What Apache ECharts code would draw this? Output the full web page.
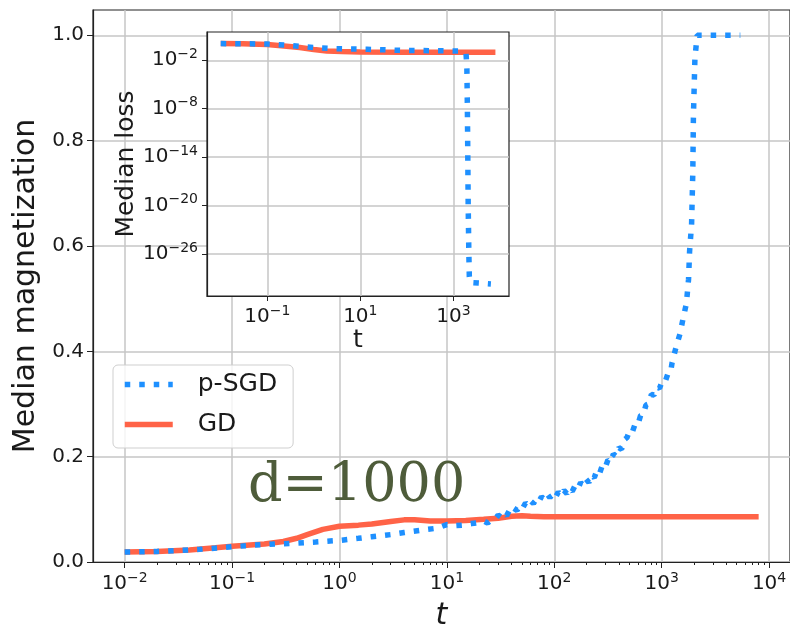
<!DOCTYPE html>
<html>
<head>
<meta charset="utf-8">
<script src="https://cdn.jsdelivr.net/npm/echarts@6/dist/echarts.min.js"></script>
<style>
  html, body { margin: 0; padding: 0; background: #fff; }
  #chart { width: 790px; height: 636px; }
</style>
</head>
<body>
<div id="chart"></div>
<script>
// Median magnetization of p-SGD vs GD over time (d = 1000), with the median loss as an inset.

// p-SGD magnetization
const sgdMagT = [0.01, 0.02, 0.05, 0.1, 0.16, 0.25, 0.4, 0.6, 1, 1.5, 2, 3, 4, 6, 8, 10,
  12, 14, 17, 20, 22, 24, 26,
  28, 30, 32, 34, 36, 38, 40, 42, 45, 48, 51, 54, 57, 60, 64, 68, 72, 76, 81, 86, 91, 97,
  103, 109, 116, 123, 131, 139, 147, 156, 166, 176, 187, 198, 210, 223, 236, 250, 265, 281, 298,
  316, 335, 355, 376, 399, 423, 448, 475, 504, 534, 566, 600, 636, 674, 714, 757, 802, 850, 901, 955,
  1012, 1073, 1137, 1205, 1250, 1350, 1480, 1590, 1700, 1780, 1820, 1900, 1950, 1975, 2040, 2140, 5400];
const sgdMag = [0.019, 0.020, 0.024, 0.029, 0.032, 0.034, 0.036, 0.038, 0.041, 0.045, 0.048, 0.052, 0.056, 0.061, 0.064, 0.071,
  0.069, 0.070, 0.073, 0.075, 0.078, 0.074, 0.080,
  0.081, 0.089, 0.085, 0.093, 0.088, 0.097, 0.093, 0.102, 0.098, 0.108, 0.103, 0.112, 0.107, 0.116, 0.111, 0.120, 0.115, 0.124, 0.119, 0.129, 0.122, 0.130,
  0.123, 0.133, 0.126, 0.136, 0.130, 0.140, 0.134, 0.145, 0.139, 0.151, 0.145, 0.157, 0.151, 0.165, 0.160, 0.175, 0.169, 0.184, 0.179,
  0.194, 0.190, 0.205, 0.201, 0.217, 0.214, 0.232, 0.236, 0.250, 0.247, 0.262, 0.260, 0.278, 0.280, 0.298, 0.300, 0.318, 0.317, 0.332, 0.330,
  0.343, 0.341, 0.356, 0.358, 0.378, 0.405, 0.433, 0.464, 0.491, 0.537, 0.590, 0.642, 0.740, 0.845, 0.956, 1.0, 1.0];

// GD magnetization
const gdMagT = [0.01, 0.02, 0.04, 0.07, 0.1, 0.2, 0.3, 0.4, 0.5, 0.7, 1, 1.5, 2, 3,
  4, 5, 7, 10, 15, 22, 30, 40, 50, 60, 80, 150, 1000, 8000];
const gdMag = [0.019, 0.020, 0.023, 0.027, 0.030, 0.034, 0.039, 0.045, 0.052, 0.062, 0.068, 0.070, 0.072, 0.077,
  0.080, 0.080, 0.078, 0.078, 0.079, 0.081, 0.083, 0.087, 0.088, 0.087, 0.086, 0.086, 0.086, 0.086];

// p-SGD loss
const sgdLossT = [0.01, 0.03, 0.1, 0.3, 0.5, 1, 2.6, 14, 72, 500, 1450, 1870, 1950, 2000,
  2040, 2080, 2150, 2200, 2280, 2500, 6400];
const sgdLoss = [1.15, 1.12, 1.0, 0.7, 0.54, 0.38, 0.27, 0.23, 0.17, 0.15, 0.14, 0.07, 1e-3, 1e-8,
  1e-14, 1e-20, 1e-26, 1.6e-29, 3e-30, 2e-30, 2e-30];

// GD loss
const gdLossT = [0.01, 0.03, 0.1, 0.2, 0.5, 1, 1.9, 4, 10, 100, 1000, 8000];
const gdLoss = [1.15, 1.1, 0.87, 0.62, 0.37, 0.22, 0.14, 0.12, 0.107, 0.1, 0.098, 0.098];

// Tick positions
const magTicks = [0, 0.2, 0.4, 0.6, 0.8, 1.0];
const mainDecades = [0.01, 0.1, 1, 10, 100, 1000, 10000];
const mainMinor = [];
for (let k = 0; k < mainDecades.length - 1; k++) {
  for (let m = 2; m <= 9; m++) mainMinor.push(mainDecades[k] * m);
}
const insetXTicks = [0.1, 10, 1000];
const insetYTicks = [1e-26, 1e-20, 1e-14, 1e-8, 1e-2];

const BLUE = '#1e90ff';
const RED = '#ff6347';
const FONT = 'DejaVu Sans';
const INK = '#1a1a1a';
const GRIDC = '#c6c6c6';
const LW = 5.5;
const DOTS = [5.5, 9];

const zip = (xs, ys) => xs.map((x, i) => [x, ys[i]]);

function powLabel(v) {
  const e = Math.round(Math.log10(v));
  const s = e < 0 ? '\u2212' + (-e) : String(e);
  return '{b|10}{s|' + s + '}';
}
const powRich = {
  b: { fontFamily: FONT, fontSize: 20, color: INK },
  s: { fontFamily: FONT, fontSize: 14, color: INK, padding: [0, 0, 12, 0] }
};

const xMin = Math.pow(10, -2.295), xMax = Math.pow(10, 4.195);

const chart = echarts.init(document.getElementById('chart'), null, { renderer: 'canvas' });

chart.setOption({
  animation: false,
  backgroundColor: '#fff',
  grid: [
    { left: 93, top: 10, width: 701, height: 568, show: true, borderColor: '#222', borderWidth: 1.2, z: 0 },
    { left: 207, top: 32, width: 302, height: 264, show: true, backgroundColor: '#fff',
      borderColor: '#222', borderWidth: 1.2, z: 10 }
  ],
  xAxis: [
    {
      type: 'log', gridIndex: 0, position: 'bottom', min: xMin, max: xMax,
      name: 't', nameLocation: 'middle', nameGap: 39,
      nameTextStyle: { fontFamily: FONT, fontSize: 30, fontStyle: 'italic', color: INK },
      axisLine: { show: true, lineStyle: { color: '#222', width: 1.2 } },
      axisTick: { show: true, customValues: mainDecades, length: 6, lineStyle: { color: '#222', width: 1 } },
      axisLabel: { customValues: mainDecades, formatter: powLabel, rich: powRich, margin: 9 },
      splitLine: { show: true, lineStyle: { color: GRIDC, width: 1.5 } }
    },
    {
      type: 'log', gridIndex: 0, position: 'bottom', offset: 0, min: xMin, max: xMax,
      axisLine: { show: false },
      axisTick: { show: true, customValues: mainMinor, length: 3, lineStyle: { color: '#222', width: 1 } },
      axisLabel: { show: false },
      splitLine: { show: false }
    },
    {
      type: 'log', gridIndex: 1, position: 'bottom', min: xMin, max: xMax, z: 11,
      name: 't', nameLocation: 'middle', nameGap: 30,
      nameTextStyle: { fontFamily: FONT, fontSize: 25, color: INK },
      axisLine: { show: true, lineStyle: { color: '#222', width: 1.2 } },
      axisTick: { show: true, customValues: insetXTicks, length: 5, lineStyle: { color: '#222', width: 1 } },
      axisLabel: { customValues: insetXTicks, formatter: powLabel, rich: powRich, margin: 8 },
      splitLine: { show: true, lineStyle: { color: GRIDC, width: 1.5 } }
    }
  ],
  yAxis: [
    {
      type: 'value', gridIndex: 0, min: 0, max: 1.048,
      name: 'Median magnetization', nameLocation: 'middle', nameGap: 43,
      nameTextStyle: { fontFamily: FONT, fontSize: 30, color: INK },
      axisLine: { show: true, lineStyle: { color: '#222', width: 1.2 } },
      axisTick: { show: true, customValues: magTicks, length: 6, lineStyle: { color: '#222', width: 1 } },
      axisLabel: { customValues: magTicks, formatter: v => v.toFixed(1), fontFamily: FONT, fontSize: 20, color: INK, margin: 9 },
      splitLine: { show: true, lineStyle: { color: GRIDC, width: 1.5 } }
    },
    {
      type: 'log', gridIndex: 1, min: Math.pow(10, -31.2), max: Math.pow(10, 1.5), z: 11,
      name: 'Median loss', nameLocation: 'middle', nameGap: 66,
      nameTextStyle: { fontFamily: FONT, fontSize: 25, color: INK },
      axisLine: { show: true, lineStyle: { color: '#222', width: 1.2 } },
      axisTick: { show: true, customValues: insetYTicks, length: 5, lineStyle: { color: '#222', width: 1 } },
      axisLabel: { customValues: insetYTicks, formatter: powLabel, rich: powRich, margin: 9 },
      splitLine: { show: true, lineStyle: { color: GRIDC, width: 1.5 } }
    }
  ],
  legend: {
    orient: 'vertical', left: 113, top: 365,
    data: ['p-SGD', 'GD'],
    itemWidth: 48, itemHeight: 20, itemGap: 11,
    padding: [5, 16, 9, 9],
    backgroundColor: 'rgba(255,255,255,0.8)',
    borderColor: '#cfcfcf', borderWidth: 1, borderRadius: 5,
    itemStyle: { opacity: 0 },
    lineStyle: { width: LW },
    textStyle: { fontFamily: FONT, fontSize: 25, color: INK, lineHeight: 29, padding: [0, 0, 0, 20] },
    selectedMode: false, z: 6
  },
  graphic: [
    {
      type: 'text', left: 248, top: 460, z: 20,
      style: { text: 'd=1000', font: '54px "DejaVu Serif"', fill: '#4e5c3a' }
    }
  ],
  series: [
    {
      name: 'p-SGD', type: 'line', xAxisIndex: 0, yAxisIndex: 0, data: zip(sgdMagT, sgdMag),
      symbol: 'none', showSymbol: false, z: 3,
      lineStyle: { color: BLUE, width: LW, type: DOTS, cap: 'butt' }, itemStyle: { color: BLUE }
    },
    {
      name: 'GD', type: 'line', xAxisIndex: 0, yAxisIndex: 0, data: zip(gdMagT, gdMag),
      symbol: 'none', showSymbol: false, z: 2,
      lineStyle: { color: RED, width: LW }, itemStyle: { color: RED }
    },
    {
      name: 'p-SGD', type: 'line', xAxisIndex: 2, yAxisIndex: 1, data: zip(sgdLossT, sgdLoss),
      symbol: 'none', showSymbol: false, z: 13,
      lineStyle: { color: BLUE, width: LW, type: DOTS, cap: 'butt' }, itemStyle: { color: BLUE }
    },
    {
      name: 'GD', type: 'line', xAxisIndex: 2, yAxisIndex: 1, data: zip(gdLossT, gdLoss),
      symbol: 'none', showSymbol: false, z: 12,
      lineStyle: { color: RED, width: LW }, itemStyle: { color: RED }
    }
  ]
});
</script>
</body>
</html>
